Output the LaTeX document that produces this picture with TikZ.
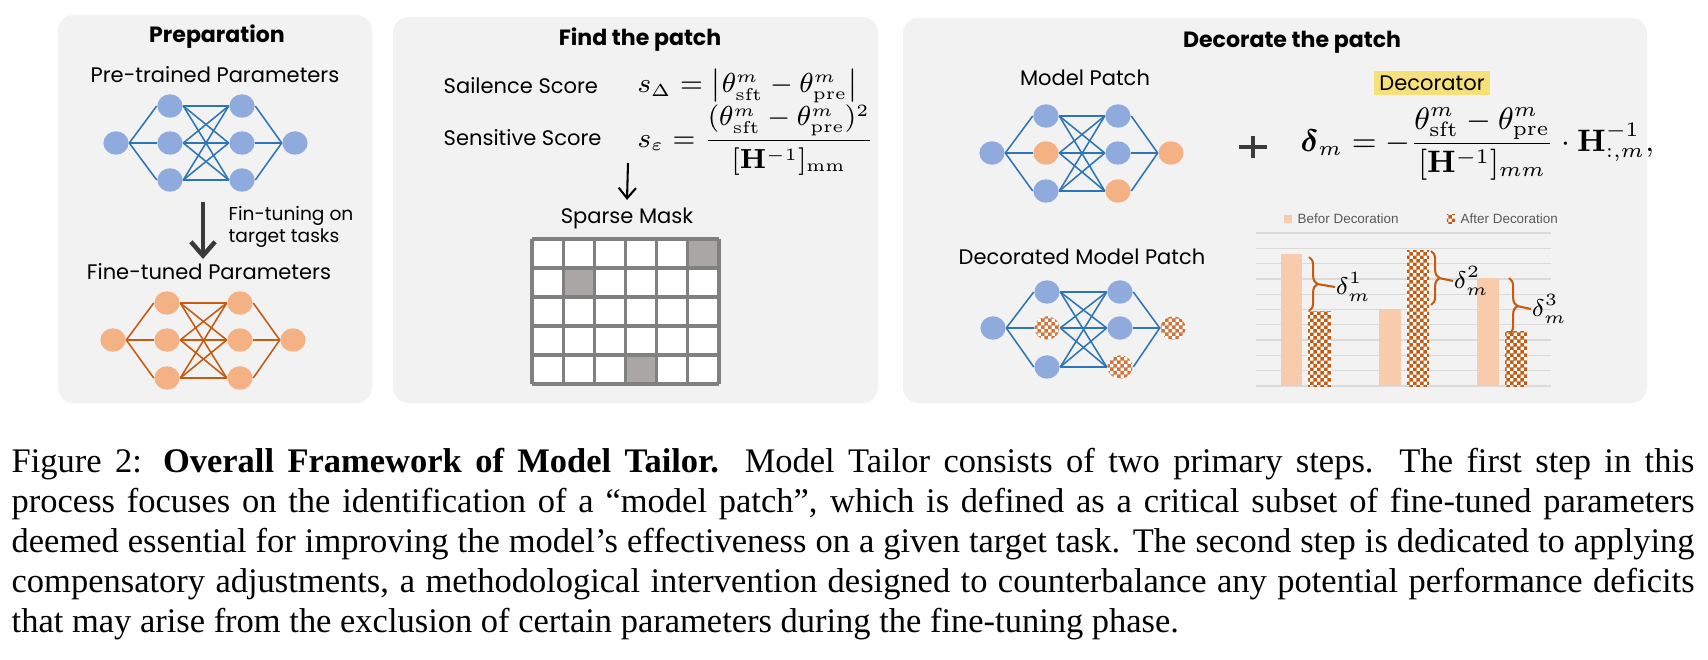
\documentclass[tikz,border=0pt]{standalone}
\usepackage[no-math]{fontspec}
\usepackage{amsmath}
\setmainfont{Liberation Serif}
\newfontfamily\sketchfont{Poppins}
\newfontfamily\chartfont{Liberation Sans}
\usetikzlibrary{arrows.meta,patterns,decorations.pathreplacing,shapes.geometric}

\definecolor{panelgray}{HTML}{F2F2F2}
\definecolor{nodeblue}{HTML}{8FAADC}
\definecolor{edgeblue}{HTML}{2E75B6}
\definecolor{nodeorange}{HTML}{F4B183}
\definecolor{edgeorange}{HTML}{C55A11}
\definecolor{checkorange}{HTML}{D4733A}
\definecolor{barpeach}{HTML}{F8CBAD}
\definecolor{maskgray}{HTML}{AAA6A5}
\definecolor{maskline}{HTML}{808080}
\definecolor{gridgray}{HTML}{DADADA}
\definecolor{legendgray}{HTML}{595959}
\definecolor{decoyellow}{HTML}{F6E07A}
\definecolor{arrowgray}{HTML}{3A3A3A}

\pgfdeclarepatternformonly{finechecker}{\pgfpointorigin}{\pgfqpoint{2pt}{2pt}}{\pgfqpoint{2pt}{2pt}}{%
  \pgfpathrectangle{\pgfpointorigin}{\pgfqpoint{1.02pt}{1.02pt}}%
  \pgfpathrectangle{\pgfqpoint{1pt}{1pt}}{\pgfqpoint{1.02pt}{1.02pt}}%
  \pgfusepath{fill}}

\begin{document}
\begin{tikzpicture}[
        x=0.29pt, y=-0.29pt,
        panel/.style={fill=panelgray, rounded corners=4.5pt},
        title/.style={font=\sketchfont\bfseries\fontsize{6.4}{7.5}\selectfont, inner sep=0},
        sketchtext/.style={font=\sketchfont\fontsize{6.1}{7.5}\selectfont, inner sep=0},
        smalltext/.style={font=\sketchfont\fontsize{5.4}{6.2}\selectfont, inner sep=0, align=left},
        formula/.style={font=\fontsize{7.8}{9}\selectfont, inner sep=0},
        netnode/.style={ellipse, minimum width=7.3pt, minimum height=6.8pt, inner sep=0},
        bluenode/.style={netnode, fill=nodeblue},
        orangenode/.style={netnode, fill=nodeorange},
        checknode/.style={netnode, preaction={fill=white}, pattern=finechecker, pattern color=checkorange},
        blueedge/.style={draw=edgeblue, line width=0.45pt},
        orangeedge/.style={draw=edgeorange, line width=0.45pt},
        maskgrid/.style={draw=maskline, line width=0.9pt},
        gridline/.style={draw=gridgray, line width=0.4pt},
        afterbar/.style={preaction={fill=white}, pattern=finechecker, pattern color=edgeorange},
        legendtext/.style={font=\chartfont\fontsize{3.9}{4.5}\selectfont, text=legendgray, inner sep=0},
        bracestyle/.style={draw=edgeorange, line width=0.6pt, decorate, decoration={brace, amplitude=2.4pt}},
        braceline/.style={draw=edgeorange, line width=0.6pt},
        deltalabel/.style={font=\fontsize{7}{8}\selectfont, inner sep=0}
    ]
    \useasboundingbox (0,0) rectangle (1708,660);

    % panels
    \fill[panel] (58,15) rectangle (372,403);
    \fill[panel] (393,17) rectangle (878,403);
    \fill[panel] (903,18) rectangle (1647,403);

    % ---------- Preparation ----------
    \node[title] (preptitle) at (217,37) {Preparation};
    \node[sketchtext] (pretitle) at (215,75) {Pre-trained Parameters};

    \node[bluenode] (prein) at (116,143) {};
    \foreach \i/\y in {1/106,2/143,3/180} {
        \node[bluenode] (prea\i) at (170,\y) {};
        \node[bluenode] (preb\i) at (242,\y) {};
    }
    \node[bluenode] (preout) at (295,143) {};
    \foreach \i in {1,2,3} {
        \draw[blueedge] (prein.east) -- (prea\i.west);
        \draw[blueedge] (preb\i.east) -- (preout.west);
        \foreach \j in {1,2,3}
            \draw[blueedge] (prea\i.east) -- (preb\j.west);
    }

    \coordinate (ftstart) at (203,202);
    \coordinate (ftend) at (203,259);
    \draw[arrowgray, line width=1.3pt, -{Straight Barb[length=4pt, width=7pt]}] (ftstart) -- (ftend);
    \node[smalltext, anchor=west] (ftnote) at (228,227) {Fin-tuning on\\target tasks};

    \node[sketchtext] (fttitle) at (209,272) {Fine-tuned Parameters};

    \node[orangenode] (finin) at (113,340) {};
    \foreach \i/\y in {1/303,2/340,3/378} {
        \node[orangenode] (fina\i) at (167,\y) {};
        \node[orangenode] (finb\i) at (240,\y) {};
    }
    \node[orangenode] (finout) at (293,340) {};
    \foreach \i in {1,2,3} {
        \draw[orangeedge] (finin.east) -- (fina\i.west);
        \draw[orangeedge] (finb\i.east) -- (finout.west);
        \foreach \j in {1,2,3}
            \draw[orangeedge] (fina\i.east) -- (finb\j.west);
    }

    % ---------- Find the patch ----------
    \node[title] (findtitle) at (640,40) {Find the patch};
    \node[sketchtext, anchor=west] (salience) at (443,86) {Sailence Score};
    \node[sketchtext, anchor=west] (sensitive) at (443,138) {Sensitive Score};
    \node[formula, anchor=west] (salform) at (637,86)
        {$s_{\Delta} = \bigl|\theta^m_{\mathrm{sft}} - \theta^m_{\mathrm{pre}}\bigr|$};
    \node[formula, anchor=west] (sensform) at (637,140)
        {$\displaystyle s_{\varepsilon} = \frac{(\theta^m_{\mathrm{sft}} - \theta^m_{\mathrm{pre}})^2}{[\mathbf{H}^{-1}]_{\mathrm{mm}}}$};

    \node[sketchtext] (masklabel) at (627,218) {Sparse Mask};
    \coordinate (maskstart) at (628,163);
    \draw[black, line width=0.6pt, -{Straight Barb[length=3pt, width=5pt]}] (maskstart) -- ([yshift=2pt]masklabel.north);

    \fill[white] (532,239) rectangle (719,384);
    \foreach \c/\r in {6/1,2/2,4/5}
        \fill[maskgray] ({532+31.17*(\c-1)},{239+29*(\r-1)}) rectangle +(31.17,29);
    \foreach \c in {0,...,6}
        \draw[maskgrid] ({532+31.17*\c},239) -- ({532+31.17*\c},384);
    \foreach \r in {0,...,5}
        \draw[maskgrid] (532,{239+29*\r}) -- (719,{239+29*\r});

    % ---------- Decorate the patch ----------
    \node[title] (decotitle) at (1292,42) {Decorate the patch};
    \node[sketchtext] (mptitle) at (1085,78) {Model Patch};

    \node[bluenode] (mpin) at (992,153) {};
    \node[bluenode] (mpa1) at (1046,116) {};
    \node[orangenode] (mpa2) at (1046,153) {};
    \node[bluenode] (mpa3) at (1046,191) {};
    \node[bluenode] (mpb1) at (1118,116) {};
    \node[bluenode] (mpb2) at (1118,153) {};
    \node[orangenode] (mpb3) at (1118,191) {};
    \node[orangenode] (mpout) at (1171,153) {};
    \foreach \i in {1,2,3} {
        \draw[blueedge] (mpin.east) -- (mpa\i.west);
        \draw[blueedge] (mpb\i.east) -- (mpout.west);
        \foreach \j in {1,2,3}
            \draw[blueedge] (mpa\i.east) -- (mpb\j.west);
    }

    \draw[arrowgray, line width=0.9pt] (1239,147) -- (1267,147) (1253,136) -- (1253,158);

    \node[sketchtext, fill=decoyellow, inner xsep=1.5pt, inner ysep=1.2pt] (decorator) at (1432,83) {Decorator};
    \node[formula, font=\fontsize{8.8}{10}\selectfont, anchor=west] (decoform) at (1300,144)
        {$\displaystyle \boldsymbol{\delta}_m = -\frac{\theta^m_{\mathrm{sft}} - \theta^m_{\mathrm{pre}}}{[\mathbf{H}^{-1}]_{mm}} \cdot \mathbf{H}^{-1}_{:,m},$};

    \node[sketchtext] (dptitle) at (1082,257) {Decorated Model Patch};

    \node[bluenode] (dpin) at (993,328) {};
    \node[bluenode] (dpa1) at (1047,292) {};
    \node[checknode] (dpa2) at (1047,328) {};
    \node[bluenode] (dpa3) at (1047,367) {};
    \node[bluenode] (dpb1) at (1120,292) {};
    \node[bluenode] (dpb2) at (1120,328) {};
    \node[checknode] (dpb3) at (1120,367) {};
    \node[checknode] (dpout) at (1173,328) {};
    \foreach \i in {1,2,3} {
        \draw[blueedge] (dpin.east) -- (dpa\i.west);
        \draw[blueedge] (dpb\i.east) -- (dpout.west);
        \foreach \j in {1,2,3}
            \draw[blueedge] (dpa\i.east) -- (dpb\j.west);
    }

    % bar chart
    \node[fill=barpeach, minimum size=2.4pt, inner sep=0] (beforekey) at (1288,219) {};
    \node[legendtext, anchor=west] (beforetext) at (1297,219) {Befor Decoration};
    \node[afterbar, minimum size=2.4pt, inner sep=0] (afterkey) at (1451,219) {};
    \node[legendtext, anchor=west] (aftertext) at (1460,219) {After Decoration};

    \foreach \k in {0,...,10}
        \draw[gridline] (1256,{233+15.3*\k}) -- (1551,{233+15.3*\k});

    \fill[barpeach] (1281,254) rectangle (1302,386);
    \fill[afterbar] (1308,312) rectangle (1331,386);
    \fill[barpeach] (1379,309) rectangle (1401,386);
    \fill[afterbar] (1407,251) rectangle (1429,386);
    \fill[barpeach] (1477,278) rectangle (1499,386);
    \fill[afterbar] (1505,332) rectangle (1527,386);

    \draw[bracestyle] (1309,257) -- (1309,311);
    \coordinate (tip1) at (1317,284);
    \node[deltalabel, anchor=west] (delta1) at (1335,287) {$\delta_m^1$};
    \draw[braceline] (tip1) -- (delta1.west);

    \draw[bracestyle] (1431,251) -- (1431,305);
    \coordinate (tip2) at (1439,278);
    \node[deltalabel, anchor=west] (delta2) at (1453,281) {$\delta_m^2$};
    \draw[braceline] (tip2) -- (delta2.west);

    \draw[bracestyle] (1509,278) -- (1509,334);
    \coordinate (tip3) at (1517,306);
    \node[deltalabel, anchor=west] (delta3) at (1531,309) {$\delta_m^3$};
    \draw[braceline] (tip3) -- (delta3.west);

    % caption
    \node[anchor=base west, inner sep=0, text width=488pt, align=justify, font=\fontsize{10}{11.6}\selectfont] (caption) at (11,472)
        {Figure 2: \textbf{Overall Framework of Model Tailor.} Model Tailor consists of two primary steps. The first step in this\linebreak
        process focuses on the identification of a ``model patch'', which is defined as a critical subset of fine-tuned parameters\linebreak
        deemed essential for improving the model's effectiveness on a given target task. The second step is dedicated to applying\linebreak
        compensatory adjustments, a methodological intervention designed to counterbalance any potential performance deficits\linebreak
        that may arise from the exclusion of certain parameters during the fine-tuning phase.};
\end{tikzpicture}
\end{document}
